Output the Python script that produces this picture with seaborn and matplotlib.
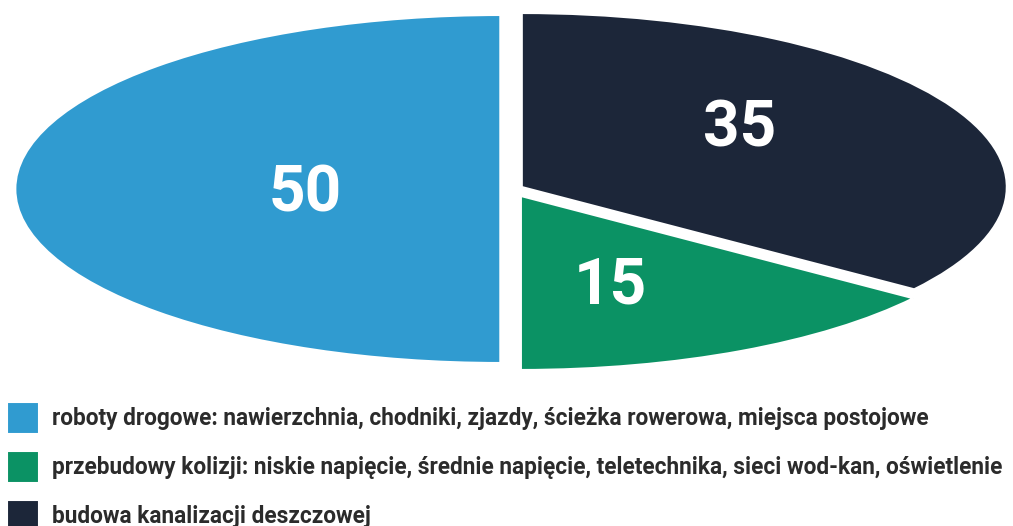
import matplotlib
matplotlib.use('Agg')
import matplotlib.pyplot as plt
import seaborn as sns

# Data
categories = [
    'roboty drogowe: nawierzchnia, chodniki, zjazdy, ścieżka rowerowa, miejsca postojowe',
    'przebudowy kolizji: niskie napięcie, średnie napięcie, teletechnika, sieci wod-kan, oświetlenie',
    'budowa kanalizacji deszczowej',
]
values = [50, 15, 35]
colors = ['#309bd0', '#0b9264', '#1c2639']

# layout
explode = [0.022, 0.045, 0.025]
label_xy = [(-0.425, -0.03), (0.205, -0.56), (0.472, 0.343)]

sns.set_theme(style='white')
plt.rcParams['font.family'] = ['Roboto', 'DejaVu Sans']

fig = plt.figure(figsize=(10.13, 5.26), dpi=100)
W, H = 1013, 526
cx, cy, rx, ry = 511, 189, 485, 174
ax = fig.add_axes([(cx - rx) / W, 1 - (cy + ry) / H, 2 * rx / W, 2 * ry / H])

wedges, _ = ax.pie(values, colors=colors, startangle=90, counterclock=True,
                   explode=explode, radius=1,
                   wedgeprops=dict(edgecolor='white', linewidth=1.5))
ax.set_aspect('auto')
ax.set_xlim(-1, 1)
ax.set_ylim(-1, 1)
ax.axis('off')

for (x, y), v in zip(label_xy, values):
    ax.text(x, y, str(v), color='white', fontsize=46, fontweight='bold',
            ha='center', va='center')

fig.legend(wedges, categories, loc='upper left',
           bbox_to_anchor=(7 / W, 1 - 402 / H), frameon=False,
           handlelength=1.42, handleheight=1.8,
           handletextpad=0.55, labelspacing=0.75, borderpad=0, borderaxespad=0,
           labelcolor='#2b2b2b', prop=dict(weight='bold', size=16.3))

fig.savefig('out.png', dpi=100, facecolor='white')
